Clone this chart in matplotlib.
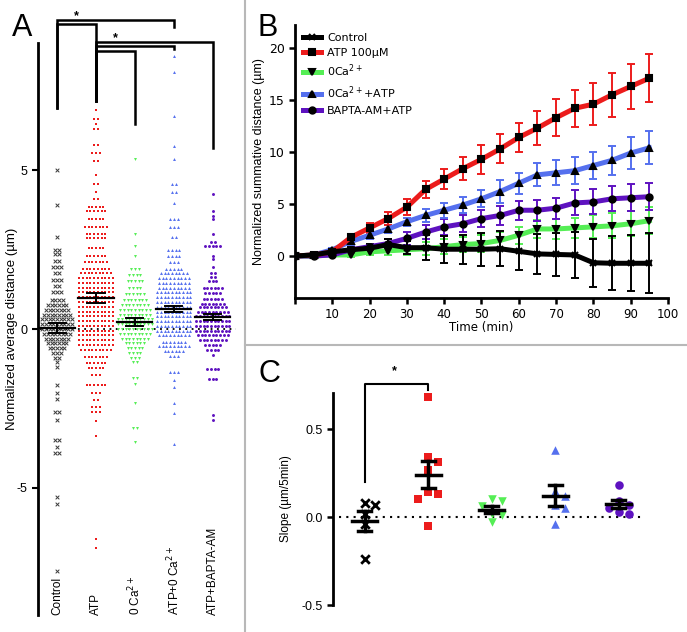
import numpy as np
import matplotlib
matplotlib.use('Agg')
import matplotlib.pyplot as plt
from matplotlib.lines import Line2D

plt.rcParams['font.family'] = ['Liberation Sans', 'DejaVu Sans']

RED = '#ec1c1c'
GREEN = '#55ee55'
BLUE = '#5570ee'
PURPLE = '#5e12c0'
GREY = '#3a3a3a'

# ---------------- panel A: swarm rows (value, number of cells in the row)
a_groups = ['Control', 'ATP', '0 Ca$^{2+}$', 'ATP+0 Ca$^{2+}$', 'ATP+BAPTA-AM']

ctrl_rows = [5.0, 3.9, 2.9, 2.5, 2.35, 2.15, 1.95, 1.75, 1.55, 1.35, 1.15, 0.9, 0.75, 0.6,
             0.45, 0.3, 0.15, 0.0, -0.15, -0.3, -0.45, -0.6, -0.75, -0.9, -1.05, -1.2, -1.75,
             -2.0, -2.2, -2.6, -2.85, -3.5, -3.7, -3.9, -5.3, -5.5, -7.6]
ctrl_counts = [1, 1, 1, 2, 2, 2, 3, 2, 3, 2, 3, 4, 6, 7,
               8, 9, 9, 9, 8, 7, 6, 5, 3, 2, 1, 1, 1,
               1, 1, 2, 1, 2, 1, 2, 1, 1, 1]

atp_rows = [6.9, 6.6, 6.45, 6.3, 5.8, 5.55, 5.3, 4.85, 4.55, 4.3, 4.1, 3.85, 3.7, 3.45, 3.2,
            3.0, 2.85, 2.55, 2.3, 2.1, 1.9, 1.75, 1.6, 1.45, 1.3, 1.15, 1.0, 0.85, 0.7, 0.55,
            0.4, 0.25, 0.1, -0.05, -0.2, -0.35, -0.5, -0.66, -0.88, -1.07, -1.23, -1.45,
            -1.77, -2.0, -2.24, -2.45, -2.6, -2.9, -3.37, -6.6, -6.9]
atp_counts = [1, 2, 1, 2, 2, 3, 2, 1, 2, 1, 2, 5, 6, 5, 7,
              6, 6, 5, 6, 7, 8, 9, 10, 10, 10, 10, 10, 10, 10, 10,
              10, 10, 10, 10, 10, 10, 10, 9, 7, 6, 5, 3,
              6, 3, 2, 3, 3, 1, 1, 1, 1]

ca0_rows = [5.35, 3.0, 2.6, 2.3, 1.9, 1.7, 1.5, 1.3, 1.1, 0.9, 0.75, 0.6, 0.45, 0.3, 0.15,
            0.0, -0.15, -0.3, -0.45, -0.6, -0.75, -0.9, -1.05, -1.55, -1.74, -2.34, -3.1, -3.55]
ca0_counts = [1, 1, 1, 1, 3, 4, 5, 4, 6, 7, 8, 9, 9, 10, 10,
              10, 9, 8, 6, 5, 4, 3, 2, 2, 1, 1, 2, 1]

ca0atp_rows = [8.6, 8.1, 6.7, 5.75, 5.35, 4.55, 4.3, 3.95, 3.45, 3.2, 2.9, 2.5, 2.3, 2.1, 1.9,
               1.75, 1.6, 1.45, 1.3, 1.15, 1.0, 0.85, 0.7, 0.55, 0.4, 0.25, 0.1, -0.05, -0.2,
               -0.4, -0.55, -0.7, -0.85, -1.35, -1.6, -1.83, -2.33, -2.65, -3.63]
ca0atp_counts = [1, 1, 1, 1, 1, 2, 2, 1, 3, 3, 2, 4, 4, 3, 5,
                 8, 9, 9, 9, 10, 10, 10, 10, 10, 10, 10, 10, 10, 9,
                 7, 9, 6, 3, 3, 1, 1, 1, 1, 1]

bapta_rows = [4.25, 3.7, 3.55, 3.45, 3.0, 2.75, 2.6, 2.3, 2.2, 1.96, 1.77, 1.65, 1.5, 1.3,
              1.13, 0.95, 0.8, 0.68, 0.55, 0.4, 0.25, 0.1, -0.05, -0.2, -0.35, -0.5, -0.66,
              -0.82, -1.27, -1.58, -2.7, -2.87]
bapta_counts = [1, 1, 1, 1, 1, 2, 5, 1, 1, 1, 2, 2, 3, 6,
                5, 6, 7, 8, 9, 10, 10, 10, 10, 9, 8, 5, 4,
                1, 4, 3, 1, 1]

a_means = [0.03, 0.98, 0.22, 0.63, 0.38]
a_sems = [0.17, 0.15, 0.12, 0.10, 0.10]

# ---------------- panel B: summative distance over time
time_min = [0, 5, 10, 15, 20, 25, 30, 35, 40, 45, 50, 55, 60, 65, 70, 75, 80, 85, 90, 95]
ctrl_mean = [0, 0.1, 0.4, 0.6, 0.75, 1.1, 0.8, 0.8, 0.65, 0.65, 0.65, 0.7, 0.45, 0.2, 0.15,
             0.1, -0.65, -0.7, -0.7, -0.7]
ctrl_sem = [0, 0.1, 0.2, 0.3, 0.4, 0.5, 0.6, 1.2, 1.3, 1.4, 1.6, 1.7, 1.8, 1.9, 2.1, 2.2,
            2.3, 2.6, 2.7, 2.9]
atp_mean = [0, 0.1, 0.4, 1.8, 2.7, 3.6, 4.7, 6.4, 7.4, 8.4, 9.3, 10.3, 11.4, 12.3, 13.3,
            14.2, 14.6, 15.5, 16.3, 17.1]
atp_sem = [0, 0.05, 0.2, 0.3, 0.5, 0.6, 0.8, 0.8, 1.0, 1.1, 1.4, 1.4, 1.4, 1.6, 1.8, 1.8,
           2.0, 2.1, 2.2, 2.3]
ca0_mean = [0, 0, 0.1, 0.1, 0.4, 0.5, 0.6, 0.7, 0.9, 1.1, 1.2, 1.5, 2.0, 2.6, 2.6, 2.7,
            2.8, 2.9, 3.1, 3.4]
ca0_sem = [0, 0.05, 0.1, 0.15, 0.3, 0.4, 0.5, 0.6, 0.7, 0.7, 0.8, 0.8, 0.8, 0.9, 1.0, 1.0,
           1.1, 1.2, 1.2, 1.3]
ca0atp_mean = [0, 0.1, 0.6, 1.4, 2.0, 2.6, 3.3, 3.9, 4.4, 4.9, 5.5, 6.2, 7.0, 7.8, 8.0,
               8.2, 8.7, 9.2, 9.9, 10.4]
ca0atp_sem = [0, 0.05, 0.2, 0.3, 0.4, 0.4, 0.4, 0.6, 0.7, 0.8, 0.8, 1.1, 1.0, 1.1, 1.2, 1.3,
              1.3, 1.4, 1.5, 1.6]
bapta_mean = [0, 0, 0.1, 0.6, 0.9, 1.2, 1.7, 2.3, 2.8, 3.1, 3.6, 3.9, 4.4, 4.4, 4.6, 5.1,
              5.2, 5.5, 5.6, 5.7]
bapta_sem = [0, 0.05, 0.1, 0.2, 0.3, 0.4, 0.6, 0.7, 0.8, 0.8, 0.8, 0.9, 0.9, 1.0, 1.0, 1.2,
             1.2, 1.2, 1.3, 1.3]
b_labels = ['Control', 'ATP 100µM', '0Ca$^{2+}$', '0Ca$^{2+}$+ATP', 'BAPTA-AM+ATP']

# ---------------- panel C: slopes per experiment
c_ctrl = [0.07, 0.08, 0.02, -0.04, -0.24]
c_atp = [0.68, 0.34, 0.31, 0.27, 0.14, 0.13, 0.10, -0.05]
c_ca0 = [0.10, 0.09, 0.06, 0.02, 0.01, -0.03]
c_ca0atp = [0.38, 0.15, 0.12, 0.07, 0.05, -0.04]
c_bapta = [0.18, 0.09, 0.07, 0.05, 0.03, 0.02]

colors = ['k', RED, GREEN, BLUE, PURPLE]
markers = ['x', 's', 'v', '^', 'o']


def swarm(vals, dy, dx):
    # simple deterministic beeswarm: put each point in the first free slot
    placed = []
    offs = np.zeros(len(vals))
    order = np.argsort(vals)[::-1]
    for i in order:
        k = 0
        while True:
            cand = [0.0] if k == 0 else [k * dx, -k * dx]
            ok = None
            for c in cand:
                if all(abs(c - px) > dx * 0.9 or abs(vals[i] - py) > dy for px, py in placed):
                    ok = c
                    break
            if ok is not None:
                offs[i] = ok
                placed.append((ok, vals[i]))
                break
            k += 1
    return offs


fig = plt.figure(figsize=(6.87, 6.32), dpi=100)

# ================= A
axA = fig.add_axes([38 / 687, 1 - 615 / 632, 202 / 687, 572 / 632])
rows = [ctrl_rows, atp_rows, ca0_rows, ca0atp_rows, bapta_rows]
counts = [ctrl_counts, atp_counts, ca0_counts, ca0atp_counts, bapta_counts]
a_cols = [GREY, RED, GREEN, BLUE, PURPLE]
dx = 0.095
axA.plot([-0.45, 4.6], [0, 0], ls=(0, (1, 2.5)), color='k', lw=1.3, zorder=1)
for g in range(5):
    xs, ys = [], []
    for v, n in zip(rows[g], counts[g]):
        for j in range(n):
            xs.append(g + (j - (n - 1) / 2) * dx)
            ys.append(v)
    if g == 0:
        axA.scatter(xs, ys, marker='x', s=7, lw=0.7, color=GREY, zorder=2)
    else:
        axA.scatter(xs, ys, marker=markers[g], s=4.5, lw=0, color=a_cols[g], zorder=2)
    m, e = a_means[g], a_sems[g]
    axA.plot([g - 0.45, g + 0.45], [m, m], color='k', lw=1.6, zorder=3)
    axA.plot([g, g], [m - e, m + e], color='k', lw=1.4, zorder=3)
    for yy in (m - e, m + e):
        axA.plot([g - 0.22, g + 0.22], [yy, yy], color='k', lw=1.4, zorder=3)
    axA.text(g, -9, a_groups[g], rotation=90, ha='center', va='bottom', fontsize=8.5)

axA.set_xlim(-0.49, 4.7)
axA.set_ylim(-9, 9)
axA.set_yticks([5, 0, -5])
axA.set_yticklabels(['5', '0', '-5'], fontsize=9)
axA.set_xticks([])
for s in ['top', 'right', 'bottom']:
    axA.spines[s].set_visible(False)
axA.spines['left'].set_linewidth(2)
axA.tick_params(axis='y', width=1.5, length=4)
axA.set_ylabel('Normalized average distance (µm)', fontsize=9.5)
axA.yaxis.set_label_coords(-20 / 202, 0.5)

# significance brackets in A: (x0, x1, y_top, left foot, right foot)
a_brackets = [(0, 3, 9.72, 6.94, 9.5), (0, 1, 9.59, 6.94, 7.19),
              (1, 4, 9.02, 7.19, 5.7), (1, 3, 8.9, 7.19, 8.8), (1, 2, 8.74, 7.19, 6.44)]
for x0, x1, yt, y0, y1 in a_brackets:
    axA.plot([x0, x0, x1, x1], [y0, yt, yt, y1], color='k', lw=1.8, clip_on=False,
             solid_joinstyle='miter')
axA.text(0.49, 9.85, '*', ha='center', va='center', fontsize=9, fontweight='bold')
axA.text(1.51, 9.15, '*', ha='center', va='center', fontsize=9, fontweight='bold')

# ================= B
axB = fig.add_axes([295 / 687, 1 - 297.6 / 632, 373 / 687, 272.5 / 632])
b_means = [ctrl_mean, atp_mean, ca0_mean, ca0atp_mean, bapta_mean]
b_sems = [ctrl_sem, atp_sem, ca0_sem, ca0atp_sem, bapta_sem]
handles = []
for g in [2, 4, 3, 1, 0]:
    axB.errorbar(time_min, b_means[g], yerr=b_sems[g], fmt='none', ecolor=colors[g],
                 elinewidth=1.4, capsize=3, capthick=1.4, zorder=2)
for g in [2, 4, 3, 1, 0]:
    mk = markers[g]
    axB.plot(time_min, b_means[g], color=colors[g], lw=3.6, marker=mk, mfc='k', mec='k',
             ms=4.5 if mk != 'x' else 4, mew=1.5, zorder=3)
for g in range(5):
    handles.append(Line2D([], [], color=colors[g], lw=3.6, marker=markers[g], mfc='k',
                          mec='k', ms=4.5 if g else 4, mew=1.5))
axB.legend(handles, b_labels, loc='upper left', bbox_to_anchor=(0.0, 1.0), frameon=False,
           handlelength=1.6, handletextpad=0.6, labelspacing=0.45, borderaxespad=0.3,
           prop={'family': 'DejaVu Sans', 'size': 8})
axB.set_xlim(0, 100)
axB.set_ylim(-4, 22.2)
axB.set_xticks(range(0, 101, 10))
axB.set_xticklabels([''] + [str(v) for v in range(10, 101, 10)], fontsize=8.5,
                    family='DejaVu Sans')
axB.set_yticks([0, 5, 10, 15, 20])
axB.set_yticklabels(['0', '5', '10', '15', '20'], fontsize=9, family='DejaVu Sans')
for s in ['top', 'right']:
    axB.spines[s].set_visible(False)
for s in ['left', 'bottom']:
    axB.spines[s].set_linewidth(2)
axB.tick_params(width=1.8, length=4)
axB.set_xlabel('Time (min)', fontsize=8.5, family='DejaVu Sans', labelpad=0)
axB.set_ylabel('Normalized summative distance (µm)', fontsize=9)
axB.yaxis.set_label_coords(-30 / 373, 0.5)

# ================= C
axC = fig.add_axes([333 / 687, 1 - 605 / 632, 317.5 / 687, 212 / 632])
c_vals = [c_ctrl, c_atp, c_ca0, c_ca0atp, c_bapta]
axC.plot([-0.41, 4.42], [0, 0], ls=(0, (1, 2.5)), color='k', lw=1.5, zorder=1)
for g in range(5):
    v = np.array(c_vals[g])
    offs = swarm(v, 0.045, 0.16)
    if g == 0:
        axC.scatter(g + offs, v, marker='x', s=38, lw=2, color='k', zorder=2)
    else:
        axC.scatter(g + offs, v, marker=markers[g], s=38, lw=0, color=colors[g], zorder=2)
    m = v.mean()
    e = v.std(ddof=1) / np.sqrt(len(v))
    axC.plot([g - 0.2, g + 0.2], [m, m], color='k', lw=2.5, zorder=3)
    axC.plot([g, g], [m - e, m + e], color='k', lw=2.5, zorder=3)
    for yy in (m - e, m + e):
        axC.plot([g - 0.1, g + 0.1], [yy, yy], color='k', lw=2.5, zorder=3)
axC.plot([0, 0, 1, 1], [0.2, 0.755, 0.755, 0.72], color='k', lw=1.5, clip_on=False)
axC.text(0.47, 0.83, '*', ha='center', va='center', fontsize=9, fontweight='bold')
axC.set_xlim(-0.5, 4.5)
axC.set_ylim(-0.5, 0.705)
axC.set_xticks([])
axC.set_yticks([-0.5, 0.0, 0.5])
axC.set_yticklabels(['-0.5', '0.0', '0.5'], fontsize=9)
for s in ['top', 'right', 'bottom']:
    axC.spines[s].set_visible(False)
axC.spines['left'].set_linewidth(2)
axC.tick_params(axis='y', width=1.8, length=4)
axC.set_ylabel('Slope (µm/5min)', fontsize=8.5)
axC.yaxis.set_label_coords(-41 / 317.5, 0.5)

# panel letters and dividers
fig.text(12 / 687, 1 - 36 / 632, 'A', fontsize=22)
fig.text(257 / 687, 1 - 36 / 632, 'B', fontsize=22)
fig.text(258 / 687, 1 - 382 / 632, 'C', fontsize=22)
fig.add_artist(Line2D([245 / 687, 245 / 687], [0, 1], transform=fig.transFigure,
                      color='#b8b8b8', lw=1.5))
fig.add_artist(Line2D([245 / 687, 1], [1 - 345 / 632, 1 - 345 / 632],
                      transform=fig.transFigure, color='#b8b8b8', lw=1.5))

fig.savefig('out.png', dpi=100)
